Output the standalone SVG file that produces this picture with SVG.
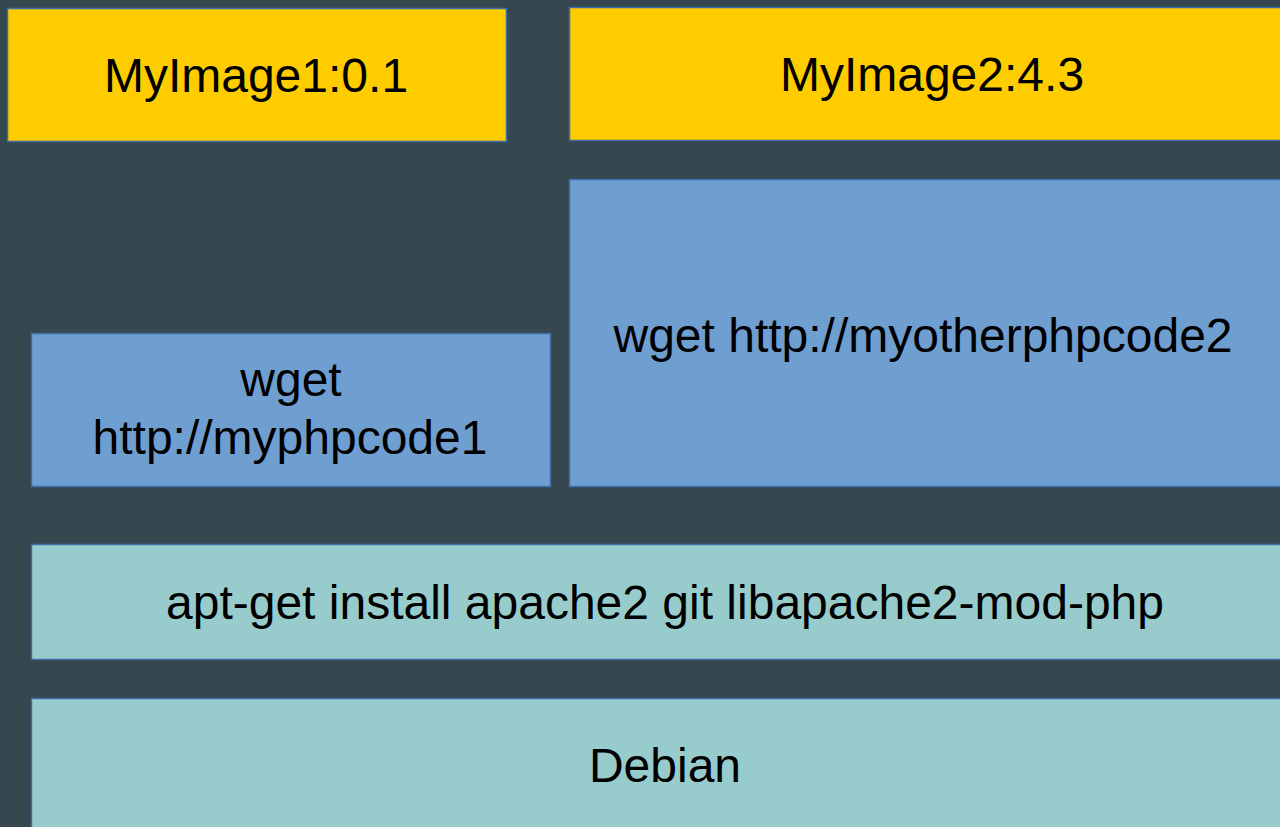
<svg xmlns="http://www.w3.org/2000/svg" width="1280" height="827" viewBox="0 0 1280 827">
<style>
.box{stroke:#3e6ca6;stroke-width:1.5}
.y{fill:#ffcc00}
.b{fill:#6f9ed0}
.t{fill:#98cbcc}
text{font-family:"Liberation Sans",Arial,sans-serif;font-size:48px;fill:#000;text-anchor:middle}
</style>
<rect x="0" y="0" width="1280" height="827" fill="#37474f"/>
<g id="img1"><rect class="box y" x="7.5" y="8.5" width="499" height="133"/><text x="256" y="92">MyImage1:0.1</text></g>
<g id="img2"><rect class="box y" x="569.5" y="7.5" width="730" height="133"/><text x="932" y="91">MyImage2:4.3</text></g>
<g id="wget2"><rect class="box b" x="569.5" y="179.5" width="730" height="307"/><text x="923" y="352">wget http://myotherphpcode2</text></g>
<g id="wget1"><rect class="box b" x="31.5" y="333.5" width="519" height="153"/><text x="291" y="396">wget</text><text x="290" y="454">http://myphpcode1</text></g>
<g id="apt"><rect class="box t" x="31.5" y="544.5" width="1268" height="115"/><text x="665" y="619">apt-get install apache2 git libapache2-mod-php</text></g>
<g id="debian"><rect class="box t" x="31.5" y="698.5" width="1268" height="150"/><text x="665" y="782">Debian</text></g>
<g id="connectors"/>
</svg>
